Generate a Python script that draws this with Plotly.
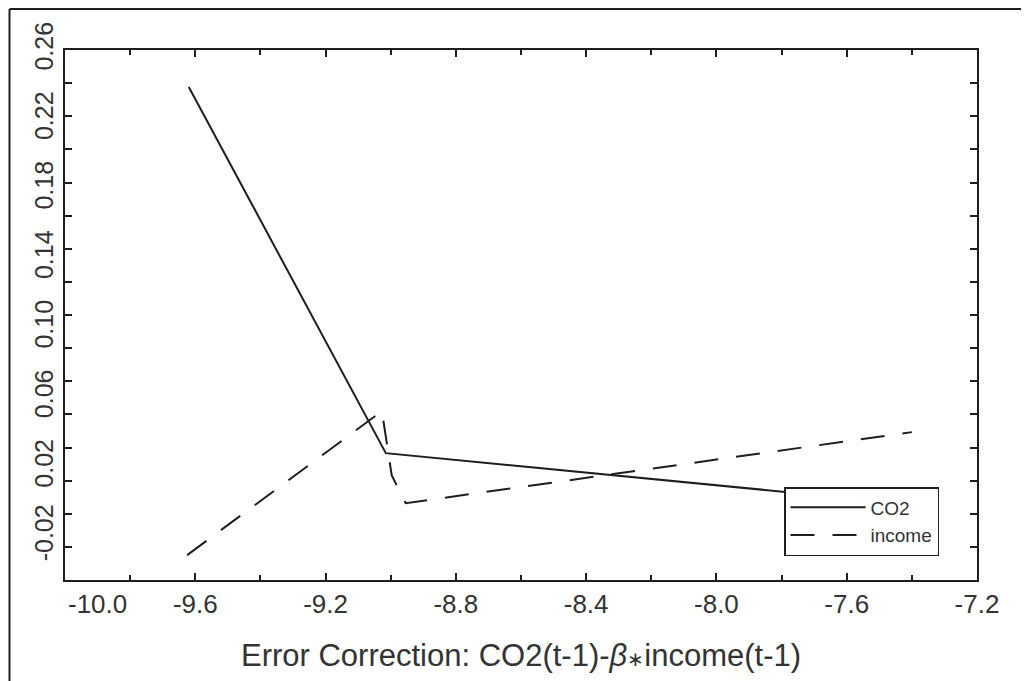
import plotly.graph_objects as go

# ---- data ----
co2_x = [-9.62, -9.015, -7.40]
co2_y = [0.2387, 0.0280, -0.0014]

income_x = [-9.625, -9.027, -8.997, -8.954, -7.40]
income_y = [-0.0307, 0.0522, 0.0153, -0.0008, 0.0401]

x_tick_vals = [-10.0, -9.6, -9.2, -8.8, -8.4, -8.0, -7.6, -7.2]
x_tick_text = ["-10.0", "-9.6", "-9.2", "-8.8", "-8.4", "-8.0", "-7.6", "-7.2"]
y_tick_vals = [-0.02, 0.02, 0.06, 0.10, 0.14, 0.18, 0.22, 0.26]
y_tick_text = ["-0.02", "0.02", "0.06", "0.10", "0.14", "0.18", "0.22", "0.26"]

x_title = ("Error Correction: CO2(t-1)-<i>β</i>"
           "<span style=\"font-size:20px\">∗</span>income(t-1)")

FONT = "Liberation Sans, Arial, Helvetica, sans-serif"
INK = "#1e1e1e"
TXT = "#333333"

Y_RANGE = [-0.045, 0.26]
N_YTICKS = 16  # tick marks drawn along the y axis (every interval)

fig = go.Figure()
fig.add_trace(go.Scatter(x=co2_x, y=co2_y, mode="lines", name="CO2",
                         line=dict(color=INK, width=2)))
fig.add_trace(go.Scatter(x=income_x, y=income_y, mode="lines", name="income",
                         line=dict(color=INK, width=2, dash="24px,18px")))

W, H = 1029, 681
L, R, T, B = 57, 60, 42, 109
pw, ph = W - L - R, H - T - B


def px_to_paper_x(px):
    return (px - L) / pw


def px_to_paper_y(py):
    return (H - B - py) / ph


# the first x label sits right of its tick in the reference (clear of the
# rotated y labels), so it is drawn as an annotation anchored at that tick
x_text_shown = [""] + x_tick_text[1:]

fig.update_layout(
    width=W, height=H,
    margin=dict(l=L, r=R, t=T, b=B, autoexpand=False),
    paper_bgcolor="white", plot_bgcolor="white",
    font=dict(family=FONT, color=TXT),
    showlegend=True,
    legend=dict(
        x=px_to_paper_x(776), y=px_to_paper_y(479),
        xanchor="left", yanchor="top",
        bgcolor="white", bordercolor=INK, borderwidth=1.5,
        font=dict(size=19, family=FONT, color=TXT),
        tracegroupgap=0, itemwidth=75,
    ),
    xaxis=dict(
        range=[-10.0, -7.2], tickvals=x_tick_vals, ticktext=x_text_shown,
        automargin=False,
        ticks="inside", ticklen=7, tickwidth=1.5, tickcolor=INK,
        minor=dict(dtick=0.2, tick0=-10.0, ticks="inside", ticklen=5,
                   tickwidth=1.5, tickcolor=INK),
        showline=True, linecolor=INK, linewidth=2, mirror="allticks",
        showgrid=False, zeroline=False,
        tickfont=dict(size=26, family=FONT, color=TXT),
        title=dict(text=x_title, font=dict(size=31, family=FONT, color=TXT),
                   standoff=26),
    ),
    yaxis=dict(
        range=Y_RANGE, tickvals=y_tick_vals, ticktext=y_tick_text,
        tickangle=-90, ticklabeloverflow="allow", automargin=False,
        ticks="inside", ticklen=0, tickwidth=0,
        minor=dict(dtick=(Y_RANGE[1] - Y_RANGE[0]) / N_YTICKS, tick0=Y_RANGE[0],
                   ticks="inside", ticklen=7, tickwidth=1.5, tickcolor=INK),
        showline=True, linecolor=INK, linewidth=2, mirror="allticks",
        showgrid=False, zeroline=False,
        tickfont=dict(size=25, family=FONT, color=TXT),
    ),
    annotations=[
        dict(text=x_tick_text[0], x=x_tick_vals[0], xref="x", y=0, yref="paper",
             xanchor="center", yanchor="middle", xshift=32, yshift=-24,
             showarrow=False, font=dict(size=26, family=FONT, color=TXT)),
    ],
    shapes=[
        dict(type="line", xref="paper", yref="paper",
             x0=px_to_paper_x(1.5), x1=px_to_paper_x(1029),
             y0=px_to_paper_y(1), y1=px_to_paper_y(1),
             line=dict(color=INK, width=2)),
        dict(type="line", xref="paper", yref="paper",
             x0=px_to_paper_x(1.5), x1=px_to_paper_x(1.5),
             y0=px_to_paper_y(1), y1=px_to_paper_y(681),
             line=dict(color=INK, width=2)),
    ],
)

fig.write_html("out.html")
